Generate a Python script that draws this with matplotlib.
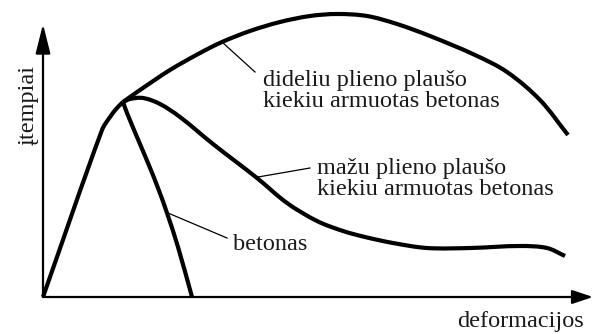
import matplotlib
matplotlib.use('Agg')
import matplotlib.pyplot as plt
import numpy as np
from matplotlib.path import Path
from matplotlib.patches import PathPatch

plt.rcParams['font.family'] = ['Liberation Serif', 'DejaVu Serif']

# common elastic branch up to the peak (deformation, stress)
rise_x = [0, 59, 67, 74, 80]
rise_y = [0, 167, 180, 189, 195]

# plain concrete, softening branch
beton_x = [80, 84, 94, 105, 115, 124, 135, 149]
beton_y = [195, 184, 160, 134, 109, 84, 50, 0]

# low steel fibre content
small_x = [80, 87, 100, 117, 137, 170, 214, 244, 274, 300, 322, 350, 384, 427, 477, 504, 522]
small_y = [195, 198, 199, 193, 180, 153, 119, 94, 76, 66, 60, 54, 49, 49, 51, 49, 41]

# high steel fibre content
large_x = [80, 97, 127, 157, 179, 207, 237, 267, 294, 324, 354, 387, 432, 464, 497, 525]
large_y = [195, 207, 227, 244, 255, 266, 275, 281, 283, 281, 273, 261, 242, 225, 197, 162]

labels = ['dideliu plieno plaušo\nkiekiu armuotas betonas',
          'mažu plieno plaušo\nkiekiu armuotas betonas',
          'betonas']
# leader line: point on the curve -> end near the text
leaders = [((179, 255), (212, 225)),
           ((215, 120), (267, 129)),
           ((125, 84), (184, 59))]
label_pos = [(220, 190), (274, 102), (190, 47)]


def smooth_path(xs, ys):
    # smooth curve through the points: unit tangents from the neighbours,
    # control points a third of each segment length away
    pts = np.column_stack([xs, ys]).astype(float)
    n = len(pts)
    tang = np.zeros_like(pts)
    for i in range(n):
        d = pts[min(i + 1, n - 1)] - pts[max(i - 1, 0)]
        tang[i] = d / np.hypot(*d)
    verts = [pts[0]]
    codes = [Path.MOVETO]
    for i in range(n - 1):
        L = np.hypot(*(pts[i + 1] - pts[i])) / 3
        verts += [pts[i] + tang[i] * L, pts[i + 1] - tang[i + 1] * L, pts[i + 1]]
        codes += [Path.CURVE4] * 3
    return Path(verts, codes)


fig = plt.figure(figsize=(5.95, 3.34), dpi=100)
ax = fig.add_axes([0, 0, 1, 1])
ax.set_xlim(-43, 552)
ax.set_ylim(-37, 297)
ax.axis('off')

# axes with arrows
ax.annotate('', xy=(0, 273), xytext=(0, 0),
            arrowprops=dict(arrowstyle='-|>,head_length=1.0,head_width=0.25',
                            mutation_scale=18, lw=1.6, color='black',
                            shrinkA=0, shrinkB=0))
ax.annotate('', xy=(550, 0), xytext=(0, 0),
            arrowprops=dict(arrowstyle='-|>,head_length=0.9,head_width=0.3',
                            mutation_scale=14, lw=1.6, color='black',
                            shrinkA=0, shrinkB=0))

for xs, ys in [(rise_x, rise_y), (beton_x, beton_y), (small_x, small_y), (large_x, large_y)]:
    ax.add_patch(PathPatch(smooth_path(xs, ys), facecolor='none', edgecolor='black',
                           lw=3.0, capstyle='butt', joinstyle='round'))

for (p0, p1), txt, (tx, ty) in zip(leaders, labels, label_pos):
    ax.plot([p0[0], p1[0]], [p0[1], p1[1]], color='black', lw=0.9)
    ax.text(tx, ty, txt, fontsize=17.5, color='#1a1a1a', ha='left', va='baseline',
            linespacing=1.0, multialignment='left')

ax.text(-15, 192, 'įtempiai', fontsize=17.5, color='#1a1a1a', rotation=90,
        ha='center', va='center')
ax.text(414, -30, 'deformacijos', fontsize=17.5, color='#1a1a1a', ha='left', va='baseline')

fig.savefig('out.png', dpi=100)
